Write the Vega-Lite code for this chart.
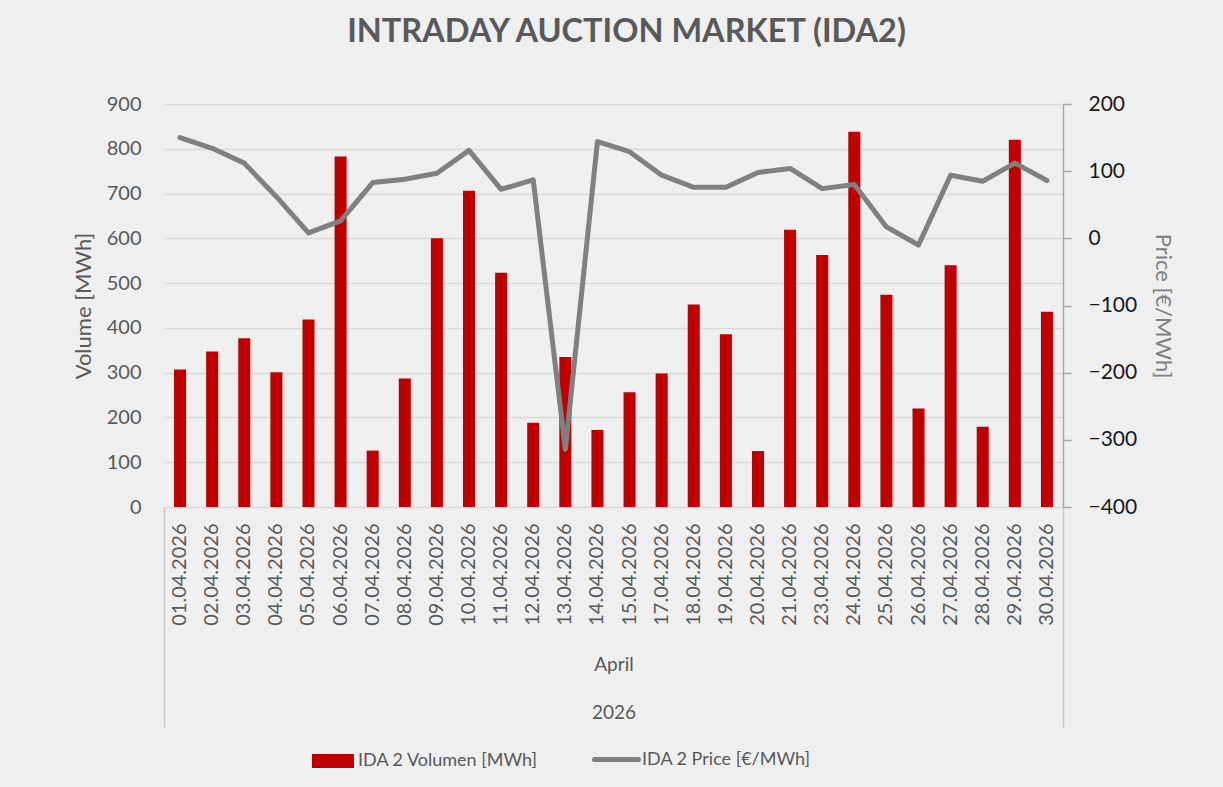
{
  "$schema": "https://vega.github.io/schema/vega-lite/v6.json",
  "width": 899,
  "height": 403,
  "autosize": "none",
  "padding": {"left": 164, "top": 104, "right": 160, "bottom": 280},
  "background": "#efefef",
  "config": {"view": {"stroke": null}, "font": "Lato"},
  "title": {"text": "INTRADAY AUCTION MARKET (IDA2)", "font": "Lato", "fontSize": 32.5, "fontWeight": "bold", "color": "#595959", "anchor": "middle", "frame": "group", "baseline": "alphabetic", "offset": 19, "dx": 13},
  "data": {"values": [
    {"date": "01.04.2026", "volume": 307, "price": 150},
    {"date": "02.04.2026", "volume": 347, "price": 134},
    {"date": "03.04.2026", "volume": 377, "price": 112},
    {"date": "04.04.2026", "volume": 301, "price": 62},
    {"date": "05.04.2026", "volume": 419, "price": 8},
    {"date": "06.04.2026", "volume": 783, "price": 26},
    {"date": "07.04.2026", "volume": 126, "price": 83},
    {"date": "08.04.2026", "volume": 287, "price": 88},
    {"date": "09.04.2026", "volume": 600, "price": 97},
    {"date": "10.04.2026", "volume": 706, "price": 131},
    {"date": "11.04.2026", "volume": 523, "price": 73},
    {"date": "12.04.2026", "volume": 188, "price": 87},
    {"date": "13.04.2026", "volume": 335, "price": -314},
    {"date": "14.04.2026", "volume": 172, "price": 144},
    {"date": "15.04.2026", "volume": 256, "price": 129},
    {"date": "17.04.2026", "volume": 298, "price": 94},
    {"date": "18.04.2026", "volume": 452, "price": 76},
    {"date": "19.04.2026", "volume": 386, "price": 76},
    {"date": "20.04.2026", "volume": 125, "price": 98},
    {"date": "21.04.2026", "volume": 619, "price": 104},
    {"date": "23.04.2026", "volume": 563, "price": 74},
    {"date": "24.04.2026", "volume": 838, "price": 80},
    {"date": "25.04.2026", "volume": 474, "price": 17},
    {"date": "26.04.2026", "volume": 220, "price": -10},
    {"date": "27.04.2026", "volume": 540, "price": 94},
    {"date": "28.04.2026", "volume": 179, "price": 85},
    {"date": "29.04.2026", "volume": 820, "price": 112},
    {"date": "30.04.2026", "volume": 436, "price": 86}
  ]},
  "layer": [
    {
      "mark": {"type": "bar", "width": {"band": 0.375}},
      "encoding": {
        "x": {"field": "date", "type": "nominal", "sort": null,
          "scale": {"paddingInner": 0, "paddingOuter": 0},
          "axis": {"orient": "bottom", "title": "April", "labelAngle": -90, "labelFont": "Lato", "labelFontSize": 20, "labelColor": "#595959", "labelPadding": 16, "ticks": false, "tickSize": 0, "domain": false, "grid": false,
            "titleFont": "Lato", "titleFontSize": 19, "titleFontWeight": "normal", "titleColor": "#595959", "titleY": 157, "titleBaseline": "middle"}},
        "y": {"field": "volume", "type": "quantitative",
          "scale": {"domain": [0, 900], "nice": false},
          "axis": {"orient": "left", "title": "Volume [MWh]", "values": [0, 100, 200, 300, 400, 500, 600, 700, 800, 900], "grid": true, "gridColor": "#d9d9d9", "gridWidth": 1.5, "domain": false, "ticks": false, "tickSize": 0, "labelPadding": 23,
            "labelFont": "Lato", "labelFontSize": 20, "labelColor": "#595959", "titleFont": "Lato", "titleFontSize": 22, "titleFontWeight": "normal", "titleColor": "#595959", "titlePadding": 11}},
        "color": {"datum": "IDA 2 Volumen [MWh]",
          "scale": {"domain": ["IDA 2 Volumen [MWh]"], "range": ["#C00000"]},
          "legend": {"orient": "none", "legendX": 148, "legendY": 636, "padding": 0, "title": null,
            "symbolType": "M-1,-0.33L1,-0.33L1,0.33L-1,0.33Z", "symbolSize": 1764, "symbolStrokeWidth": 0, "symbolOpacity": 1,
            "labelFont": "Lato", "labelFontSize": 18, "labelColor": "#595959", "labelOffset": 4, "labelLimit": 400}}
      }
    },
    {
      "mark": {"type": "line", "strokeWidth": 5, "strokeCap": "round", "strokeJoin": "round"},
      "encoding": {
        "x": {"field": "date", "type": "nominal", "sort": null,
          "axis": {"orient": "bottom", "values": ["01.04.2026"], "bandPosition": 0, "labels": false, "domain": false, "grid": false, "ticks": true, "tickSize": 220, "tickColor": "#c8c8c8", "tickWidth": 1.5,
            "title": "2026", "titleFont": "Lato", "titleFontSize": 19, "titleFontWeight": "normal", "titleColor": "#595959", "titleY": 205, "titleBaseline": "middle"}},
        "y": {"field": "price", "type": "quantitative",
          "scale": {"domain": [-400, 200], "nice": false},
          "axis": {"orient": "right", "title": "Price [€/MWh]", "values": [-400, -300, -200, -100, 0, 100, 200], "grid": false, "domain": true, "domainColor": "#a6a6a6", "domainWidth": 1.5, "ticks": true, "tickSize": 8, "tickColor": "#a6a6a6", "tickWidth": 1.5, "labelPadding": 17,
            "labelFont": "Lato", "labelFontSize": 21, "labelColor": "#1a1a1a", "titleFont": "Lato", "titleFontSize": 22, "titleFontWeight": "normal", "titleColor": "#808080", "titlePadding": 14}},
        "color": {"datum": "IDA 2 Price [€/MWh]",
          "scale": {"domain": ["IDA 2 Price [€/MWh]"], "range": ["#808080"]},
          "legend": {"orient": "none", "legendX": 428, "legendY": 631, "padding": 0, "title": null,
            "symbolType": "stroke", "symbolSize": 1936, "symbolStrokeWidth": 5,
            "labelFont": "Lato", "labelFontSize": 18, "labelColor": "#595959", "labelOffset": 1, "labelLimit": 400,
            "encode": {"symbols": {"update": {"strokeCap": {"value": "round"}}}}}}
      }
    },
    {
      "mark": {"type": "rule", "opacity": 0},
      "encoding": {
        "x": {"field": "date", "type": "nominal", "sort": null,
          "axis": {"orient": "bottom", "values": ["30.04.2026"], "bandPosition": 1, "labels": false, "domain": false, "grid": false, "ticks": true, "tickSize": 220, "tickColor": "#c8c8c8", "tickWidth": 1.5, "title": null}}
      }
    }
  ],
  "resolve": {"scale": {"y": "independent", "color": "independent"}, "axis": {"x": "independent"}, "legend": {"color": "independent"}}
}
